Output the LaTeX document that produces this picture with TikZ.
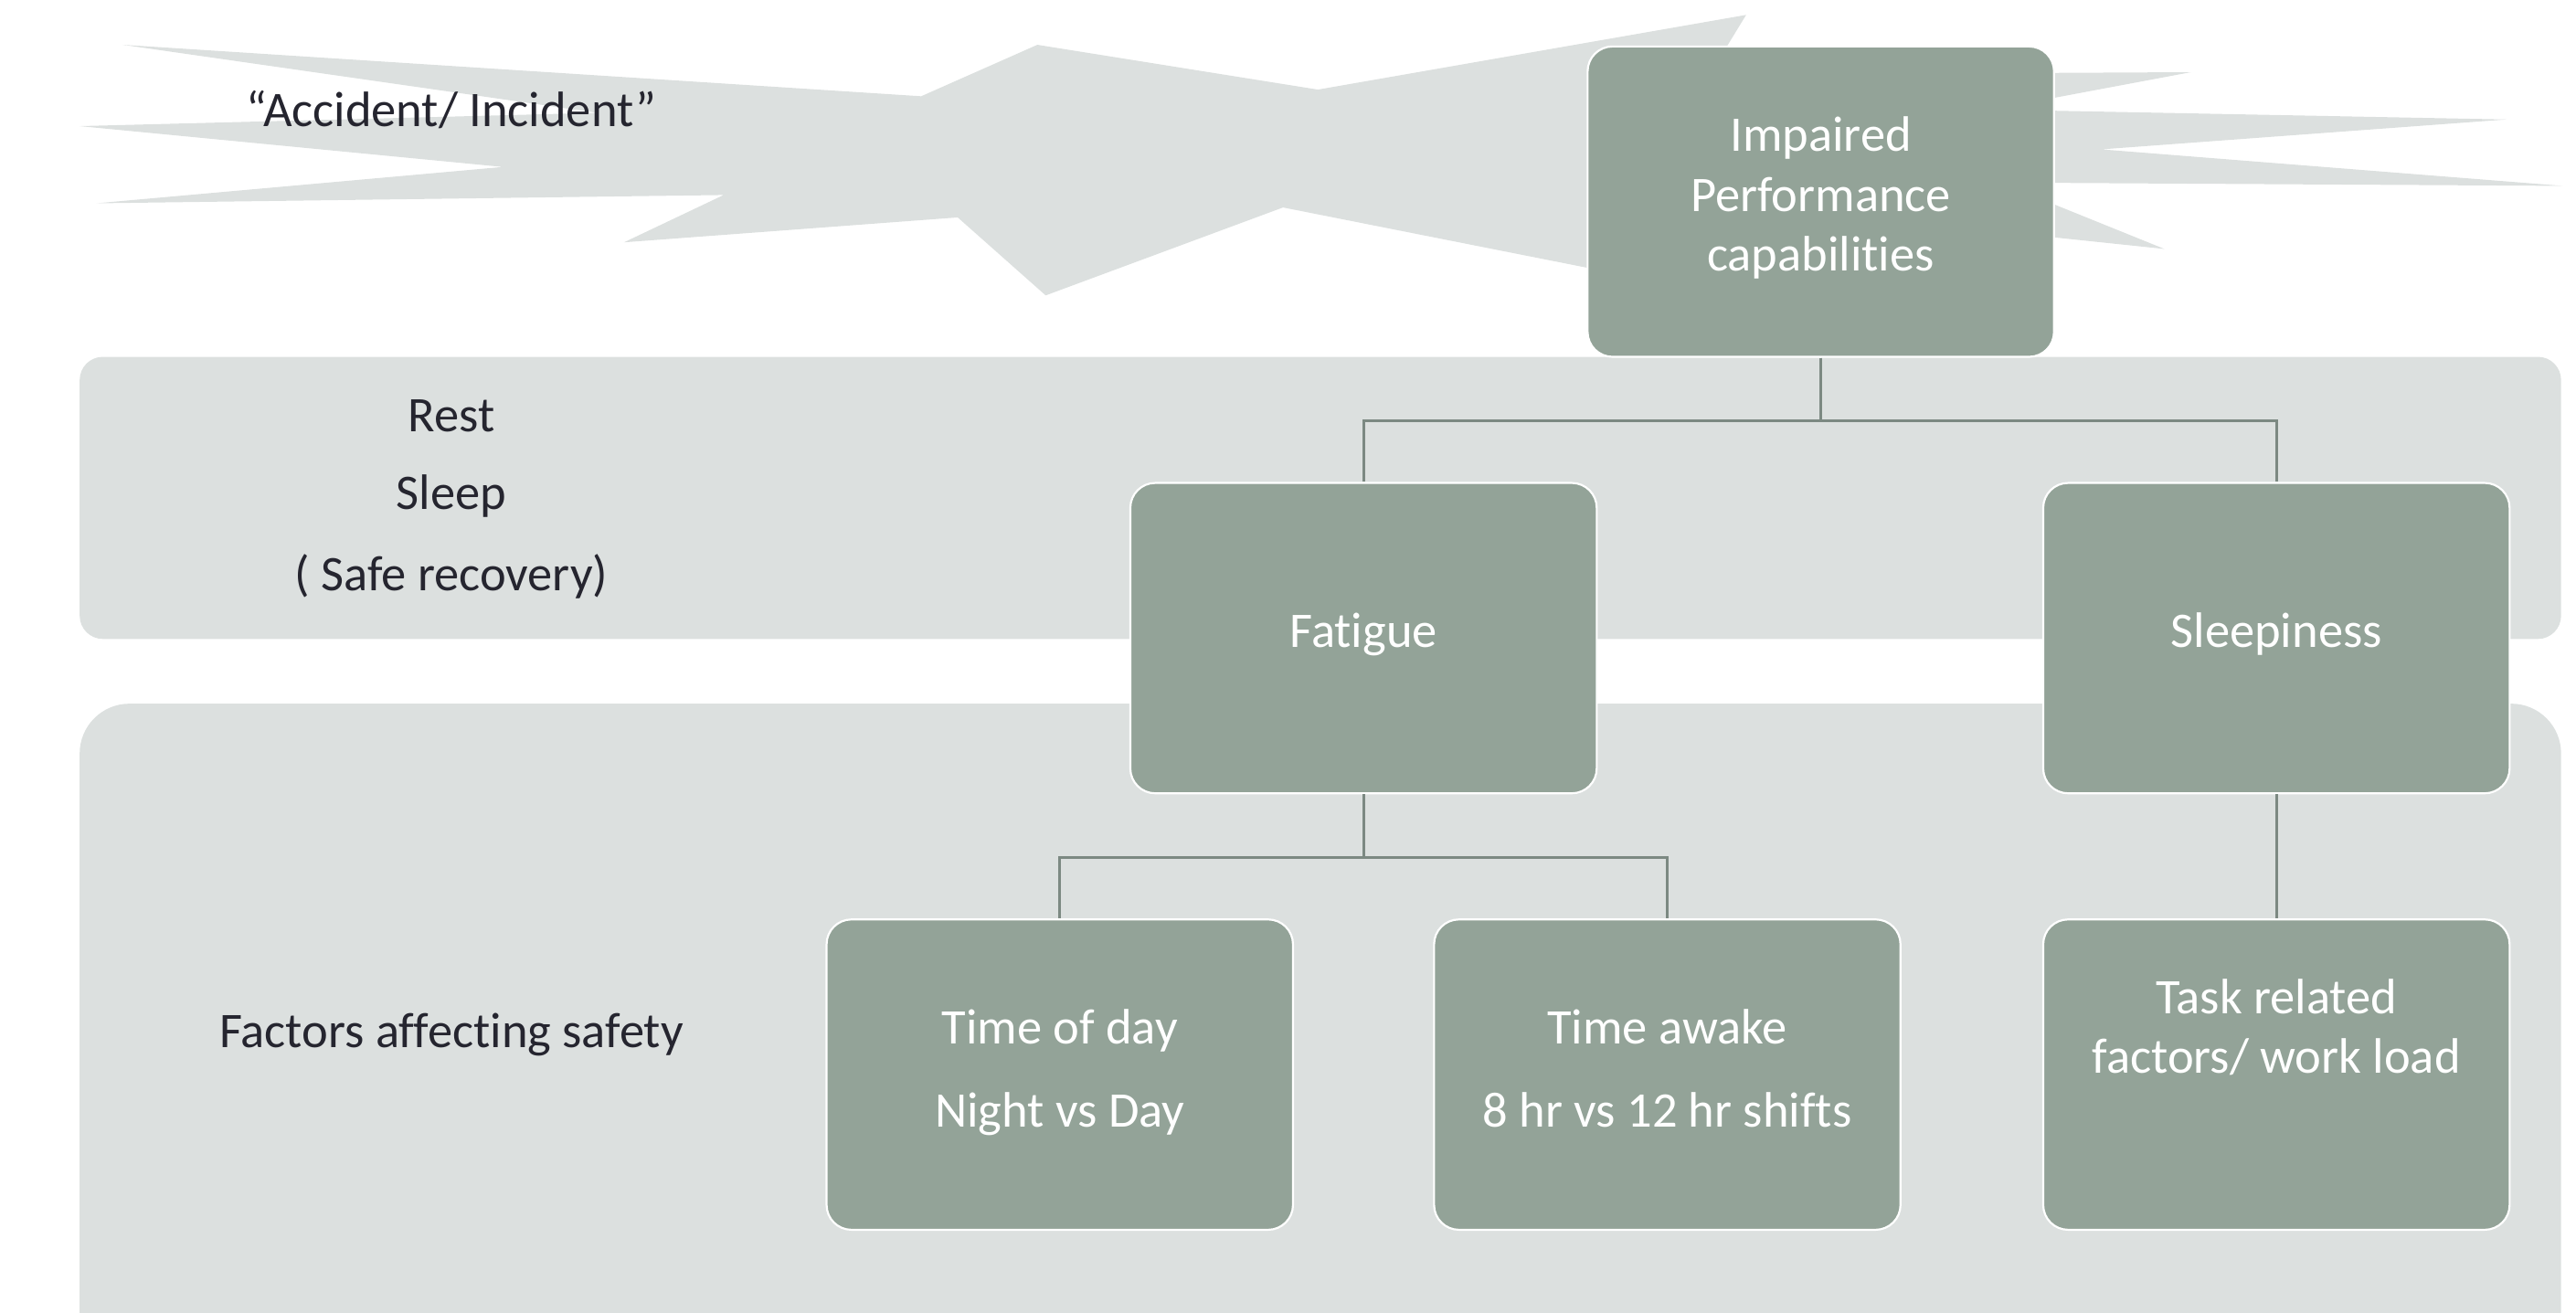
\documentclass[tikz,border=0pt]{standalone}
\usepackage{fontspec}
\setmainfont{Carlito}[Ligatures={NoCommon,NoContextual}]
\definecolor{pale}{HTML}{DCE0DF}
\definecolor{boxfill}{HTML}{93A398}
\definecolor{linkcol}{HTML}{7C8982}
\definecolor{ink}{HTML}{25252F}
\tikzset{
  panel/.style={fill=pale, draw=none},
  gbox/.style={rectangle, rounded corners=15pt, fill=boxfill, draw=white, line width=1.2pt,
     minimum width=281pt, minimum height=187pt, inner sep=0pt},
  wtext/.style={text=white, align=center, font=\fontsize{30}{36}\selectfont},
  ltext/.style={text=ink, align=center, font=\fontsize{30}{36}\selectfont},
  link/.style={draw=linkcol, line width=1.5pt},
}
\begin{document}
\begin{tikzpicture}[x=1pt,y=-1pt]
\useasboundingbox (0,0) rectangle (1552,791);
\clip (0,0) rectangle (1552,791);
% starburst
\fill[pale] (74,27) -- (555,58) -- (625,27) -- (794,54) -- (1052,9) -- (1030,45)
  -- (1320,43.5) -- (1200,66) -- (1510,72) -- (1266,90) -- (1544,112) -- (1205,110)
  -- (1304,150) -- (1180,137) -- (1000,170) -- (773,125) -- (630,178) -- (577,131)
  -- (376,146) -- (436,117.5) -- (58,122.5) -- (303,100.6) -- (48,76) -- (360,68) -- cycle;
% panels
\fill[panel, rounded corners=14pt] (48,215) rectangle (1543,385);
\fill[panel, rounded corners=30pt] (48,424) rectangle (1543,830);
% boxes
\node[gbox] (imp) at (1097,121.5) {};
\node[gbox] (fat) at (821.5,384.5) {};
\node[gbox] (slp) at (1371.5,384.5) {};
\node[gbox] (tod) at (638.5,647.5) {};
\node[gbox] (taw) at (1004.5,647.5) {};
\node[gbox] (task) at (1371.5,647.5) {};
% connectors
\draw[link] (imp.south) -- ++(0,38) -| (fat.north);
\draw[link] (imp.south) -- ++(0,38) -| (slp.north);
\draw[link] (fat.south) -- ++(0,38) -| (tod.north);
\draw[link] (fat.south) -- ++(0,38) -| (taw.north);
\draw[link] (slp.south) -- (task.north);
% box texts
\node[wtext] (timp) at (1097,120) {\strut Impaired\\\strut Performance\\\strut capabilities};
\node[wtext] (tfat) at (821.5,383) {\strut Fatigue};
\node[wtext] (tslp) at (1371.5,383) {\strut Sleepiness};
\node[wtext] (ttod) at (638.5,647) {\strut Time of day\\[14pt]\strut Night vs Day};
\node[wtext] (ttaw) at (1004.5,647) {\strut Time awake\\[14pt]\strut 8 hr vs 12 hr shifts};
\node[wtext] (ttask) at (1371.5,621.5) {\strut Task related\\\strut factors/ work load};
% left labels
\node[ltext] (acc) at (272,69) {\strut “Accident/ Incident”};
\node[ltext] (rest) at (272,253) {\strut Rest};
\node[ltext] (sleep) at (272,300) {\strut Sleep};
\node[ltext] (safe) at (272,349) {\strut ( Safe recovery)};
\node[ltext] (fact) at (272,624) {\strut Factors affecting safety};
\end{tikzpicture}
\end{document}
